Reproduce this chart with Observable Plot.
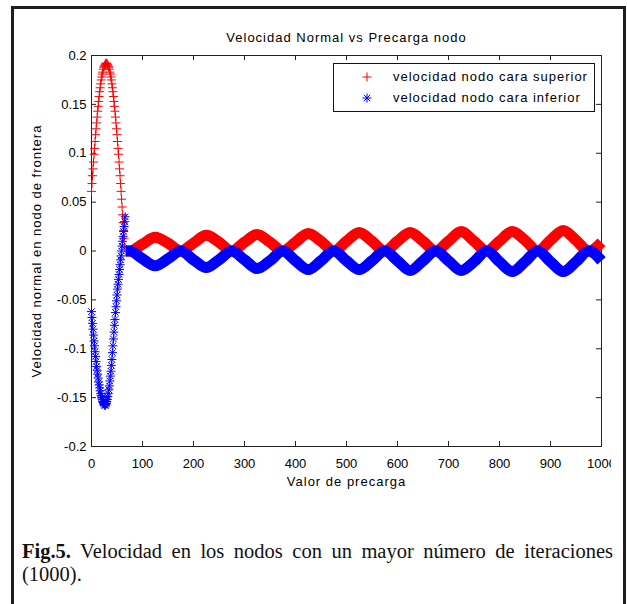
<!DOCTYPE html>
<html><head><meta charset="utf-8">
<script src="https://cdn.jsdelivr.net/npm/d3@7"></script>
<script src="https://cdn.jsdelivr.net/npm/@observablehq/plot@0.6"></script>
<style>
html,body{margin:0;padding:0;background:#fff;}
body{width:627px;height:604px;position:relative;overflow:hidden;}
#frame{position:absolute;left:11px;top:6px;width:615px;height:640px;border:3px solid #1e1e1e;box-sizing:border-box;}
#chart{position:absolute;left:0;top:0;width:611px;height:500px;overflow:hidden;}
#legend{position:absolute;left:333px;top:63px;width:262px;height:49px;border:1px solid #111;background:#fff;box-sizing:border-box;font:13px "Liberation Sans",Arial,sans-serif;letter-spacing:1px;color:#000;}
#legend .row{position:absolute;left:0;height:16px;line-height:16px;width:260px;}
#legend svg{position:absolute;left:24px;top:0;}
#legend span{position:absolute;left:59px;top:0;white-space:nowrap;}
#caption{position:absolute;left:22px;top:540px;width:591px;font:20.5px/22.5px "Liberation Serif","Times New Roman",serif;text-align:justify;color:#111;}
</style></head>
<body>
<div id="frame"></div>
<div id="chart"></div>
<div id="legend"></div>
<div id="caption"><b>Fig.5.</b> Velocidad en los nodos con un mayor número de iteraciones (1000).</div>
<script>
const titleText = "Velocidad Normal vs Precarga nodo";
const xLabelText = "Valor de precarga";
const yLabelText = "Velocidad normal en nodo de frontera";
const seriesNames = ["velocidad nodo cara superior", "velocidad nodo cara inferior"];
const seriesColors = ["#ff0000", "#0000ff"];

const xTicks = [0, 100, 200, 300, 400, 500, 600, 700, 800, 900, 1000];
const xTickLabels = ["0", "100", "200", "300", "400", "500", "600", "700", "800", "900", "1000"];
const yTicks = [-0.2, -0.15, -0.1, -0.05, 0, 0.05, 0.1, 0.15, 0.2];
const yTickLabels = ["-0.2", "-0.15", "-0.1", "-0.05", "0", "0.05", "0.1", "0.15", "0.2"];

// first iterations, one value per iteration (x = index)
const redEarly = [0.061, 0.069, 0.077, 0.084, 0.091, 0.099, 0.105, 0.112, 0.119, 0.125,
  0.131, 0.137, 0.143, 0.148, 0.153, 0.158, 0.163, 0.167, 0.171, 0.175,
  0.178, 0.181, 0.183, 0.186, 0.188, 0.189, 0.190, 0.191, 0.192, 0.192,
  0.192, 0.191, 0.190, 0.189, 0.188, 0.186, 0.183, 0.181, 0.178, 0.175,
  0.171, 0.167, 0.163, 0.158, 0.153, 0.148, 0.143, 0.137, 0.131, 0.125,
  0.119, 0.112, 0.105, 0.099, 0.091, 0.084, 0.077, 0.069, 0.061, 0.053,
  0.045, 0.037, 0.029, 0.021, 0.013, 0.004];
const blueEarly = [-0.062, -0.068, -0.074, -0.080, -0.086, -0.092, -0.097, -0.103, -0.108, -0.113,
  -0.118, -0.122, -0.126, -0.130, -0.134, -0.137, -0.140, -0.143, -0.146, -0.148,
  -0.150, -0.152, -0.154, -0.155, -0.156, -0.157, -0.158, -0.158, -0.157, -0.156,
  -0.154, -0.152, -0.149, -0.146, -0.142, -0.138, -0.133, -0.128, -0.123, -0.117,
  -0.111, -0.104, -0.097, -0.090, -0.083, -0.076, -0.070, -0.063, -0.057, -0.051,
  -0.045, -0.039, -0.034, -0.029, -0.024, -0.019, -0.014, -0.009, -0.005, 0.000,
  0.005, 0.010, 0.015, 0.020, 0.025, 0.030, 0.035];

// later iterations: readings at troughs, crossings and peaks
const bandX = [67, 75, 100, 125, 150, 175, 200, 225, 250, 275, 300, 325, 350, 375, 400, 425, 450, 475, 500,
  525, 550, 575, 600, 625, 650, 675, 700, 725, 750, 775, 800, 825, 850, 875, 900, 925, 950, 975, 1000];
const redBand = [0.000, 0.000, 0.007, 0.014, 0.008, 0.000, 0.008, 0.016, 0.009, 0.000, 0.009, 0.017, 0.009, 0.000,
  0.009, 0.018, 0.010, 0.000, 0.010, 0.019, 0.010, 0.000, 0.010, 0.019, 0.010, 0.000, 0.010, 0.020, 0.010, 0.000,
  0.010, 0.020, 0.011, 0.000, 0.011, 0.021, 0.011, 0.000, 0.009];
const blueBand = [0.000, 0.000, -0.008, -0.015, -0.008, 0.000, -0.009, -0.017, -0.009, 0.000, -0.009, -0.018, -0.010, 0.000,
  -0.010, -0.019, -0.010, 0.000, -0.010, -0.019, -0.010, 0.000, -0.010, -0.020, -0.010, 0.000, -0.010, -0.020, -0.011, 0.000,
  -0.011, -0.021, -0.011, 0.000, -0.011, -0.021, -0.011, 0.000, -0.010];

const redEarlyData = redEarly.map((y, i) => ({x: i, y}));
const blueEarlyData = blueEarly.map((y, i) => ({x: i, y}));
const redBandData = bandX.map((x, i) => ({x, y: redBand[i]}));
const blueBandData = bandX.map((x, i) => ({x, y: blueBand[i]}));

const axisColor = "#222";
const chart = Plot.plot({
  width: 611, height: 500,
  marginLeft: 91, marginRight: 10, marginTop: 55, marginBottom: 54,
  style: {fontFamily: '"Liberation Sans", Arial, sans-serif', fontSize: "13px", color: "#000", background: "transparent", overflow: "hidden"},
  x: {domain: [0, 1000]},
  y: {domain: [-0.2, 0.2]},
  marks: [
    Plot.frame({stroke: axisColor}),
    Plot.tickX(xTicks, {x: d => d, insetTop: 386, stroke: axisColor}),
    Plot.tickX(xTicks, {x: d => d, insetBottom: 386, stroke: axisColor}),
    Plot.tickY(yTicks, {y: d => d, insetRight: 505, stroke: axisColor}),
    Plot.tickY(yTicks, {y: d => d, insetLeft: 505, stroke: axisColor}),
    Plot.axisX({ticks: xTicks, tickSize: 0, tickPadding: 12, tickFormat: d => xTickLabels[xTicks.indexOf(d)], label: null}),
    Plot.axisY({ticks: yTicks, tickSize: 0, tickPadding: 5, tickFormat: d => yTickLabels[yTicks.indexOf(d)], label: null}),
    Plot.dot(redEarlyData, {x: "x", y: "y", symbol: "plus", r: 3, stroke: seriesColors[0], strokeWidth: 1}),
    Plot.line(redBandData, {x: "x", y: "y", stroke: seriesColors[0], strokeWidth: 11, curve: "monotone-x", strokeLinejoin: "round", strokeLinecap: "butt"}),
    Plot.dot(blueEarlyData, {x: "x", y: "y", symbol: "plus", r: 3, stroke: seriesColors[1], strokeWidth: 1}),
    Plot.dot(blueEarlyData, {x: "x", y: "y", symbol: "times", r: 3, stroke: seriesColors[1], strokeWidth: 1}),
    Plot.line(blueBandData, {x: "x", y: "y", stroke: seriesColors[1], strokeWidth: 11, curve: "monotone-x", strokeLinejoin: "round", strokeLinecap: "butt"}),
    Plot.text([titleText], {text: d => d, frameAnchor: "top", dy: -17.5, lineAnchor: "middle", fontSize: 13, fill: "#000"}),
    Plot.text([xLabelText], {text: d => d, frameAnchor: "bottom", dy: 35, lineAnchor: "middle", fontSize: 13, fill: "#000"}),
    Plot.text([yLabelText], {text: d => d, frameAnchor: "left", dx: -55, rotate: -90, textAnchor: "middle", lineAnchor: "middle", fontSize: 13, fill: "#000"})
  ]
});
d3.select(chart).selectAll("text")
  .filter(function() { return [titleText, xLabelText, yLabelText].includes(this.textContent); })
  .style("letter-spacing", "1px");
document.getElementById("chart").appendChild(chart);

// legend
const legend = d3.select("#legend");
const symbols = [[d3.symbolPlus], [d3.symbolPlus, d3.symbolTimes]];
const sizes = [[Math.PI * 9], [Math.PI * 9, Math.PI * 9]];
const rowTops = [5.3, 26.3];
seriesNames.forEach((name, i) => {
  const row = legend.append("div").attr("class", "row").style("top", rowTops[i] + "px");
  const svg = row.append("svg").attr("width", 18).attr("height", 16);
  symbols[i].forEach((s, j) => {
    svg.append("path").attr("transform", "translate(9,8)")
      .attr("d", d3.symbol(s, sizes[i][j])())
      .attr("fill", "none").attr("stroke", seriesColors[i]).attr("stroke-width", 1);
  });
  row.append("span").text(name);
});
</script>
</body></html>
